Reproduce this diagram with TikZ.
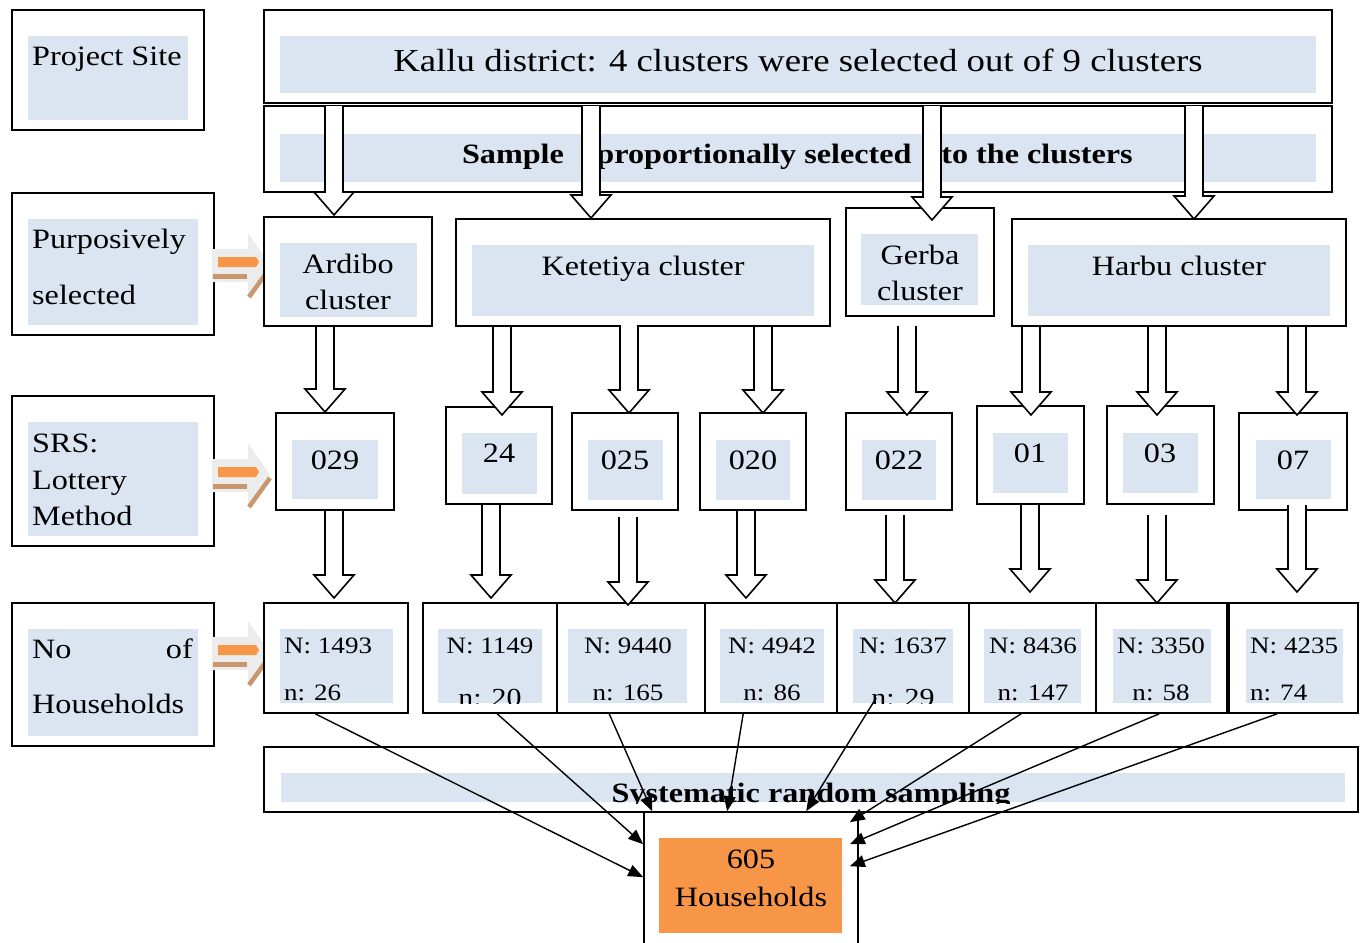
\documentclass[tikz,border=0pt]{standalone}
\usepackage{fontspec}
\setmainfont{Liberation Serif}[FakeStretch=1.15]
\usetikzlibrary{arrows.meta,calc}
\definecolor{lb}{HTML}{DBE5F1}
\definecolor{org}{HTML}{F79646}
\definecolor{brn}{HTML}{C9976E}
\definecolor{gry}{HTML}{ECECEC}
\tikzset{
 box/.style={draw=black, line width=1.6pt, inner sep=0pt, fill=white},
 txt/.style={inner sep=0pt, anchor=base, font=\fontsize{28}{30}\selectfont},
 txtl/.style={txt, anchor=base west},
 txtr/.style={txt, anchor=base east},
 big/.style={txt, font=\fontsize{32}{34}\selectfont},
 bld/.style={txt, font=\fontsize{28}{30}\selectfont\bfseries},
 sm/.style={txt, font=\fontsize{23.5}{26}\selectfont},
 sml/.style={sm, anchor=base west},
 smb/.style={sm, font=\fontsize{26}{28}\selectfont},
 blk/.style={draw=black, fill=white, line width=1.6pt, line join=miter},
 conn/.style={line width=1.4pt, -{Triangle[length=15pt,width=12pt]}},
}
\newcommand{\barrow}[3]{\filldraw[blk] (#1-9,#2) -- (#1-9,#3-23) -- (#1-20,#3-23) -- (#1,#3) -- (#1+20,#3-23) -- (#1+9,#3-23) -- (#1+9,#2);}
\newcommand{\oarrow}[1]{%
 \fill[gry] (212,#1-16) -- (248,#1-16) -- (248,#1-32) -- (270,#1) -- (248,#1+33) -- (248,#1+17) -- (212,#1+17) -- cycle;
 \fill[brn] (213,#1+9) rectangle (247,#1+14);
 \draw[brn, line width=4.5pt] (249,#1+32) -- (270,#1+3);
 \fill[org] (218,#1-8) -- (256,#1-8) -- (259,#1-3) -- (256,#1+2) -- (218,#1+2) -- cycle;
}
\begin{document}
\begin{tikzpicture}[x=1pt,y=-1pt]
\useasboundingbox (0,0) rectangle (1364,942);
\clip (0,0) rectangle (1364,942);

% ---- left column ----
\node[box, minimum width=192pt, minimum height=120pt] (ps) at (108,70) {};
\fill[lb] (28,36) rectangle (188,120);
\node[txtl] (pst) at (32,65) {Project Site};

\node[box, minimum width=202pt, minimum height=142pt] (pu) at (113,264) {};
\fill[lb] (28,219) rectangle (198,325);
\node[txtl] (pu1) at (32,248) {Purposively};
\node[txtl] (pu2) at (32,304) {selected};

\node[box, minimum width=202pt, minimum height=150pt] (srs) at (113,471) {};
\fill[lb] (28,422) rectangle (198,536);
\node[txtl] (srs1) at (32,452) {SRS:};
\node[txtl] (srs2) at (32,489) {Lottery};
\node[txtl] (srs3) at (32,525) {Method};

\node[box, minimum width=202pt, minimum height=143pt] (noh) at (113,674.5) {};
\fill[lb] (28,629) rectangle (198,736);
\node[txtl] (noh1) at (32,658) {No};
\node[txtr] (noh2) at (193,658) {of};
\node[txtl] (noh3) at (32,713) {Households};

\oarrow{265}
\oarrow{475}
\oarrow{653}

% ---- top boxes ----
\node[box, minimum width=1068pt, minimum height=93pt] (kal) at (798,56.5) {};
\fill[lb] (280,36) rectangle (1316,93);
\node[big] (kalt) at (798,71) {Kallu district: 4 clusters were selected out of 9 clusters};

\node[box, minimum width=1068pt, minimum height=86pt] (sam) at (798,149) {};
\fill[lb] (280,134) rectangle (1316,182);
\node[bld] (sam1) at (513,163) {Sample};
\node[bld] (sam2) at (754,163) {proportionally selected};
\node[bld] (sam3) at (1037,163) {to the clusters};

% ---- clusters ----
\node[box, minimum width=168pt, minimum height=109pt] (ard) at (348,271.5) {};
\fill[lb] (280,243) rectangle (417,317);
\node[txt] (ard1) at (348,273) {Ardibo};
\node[txt] (ard2) at (348,309) {cluster};

\node[box, minimum width=374pt, minimum height=107pt] (ket) at (643,272.5) {};
\fill[lb] (472,245) rectangle (814,316);
\node[txt] (ket1) at (643,275) {Ketetiya cluster};

\node[box, minimum width=148pt, minimum height=108pt] (ger) at (920,262) {};
\fill[lb] (861,234) rectangle (978,305);
\node[txt] (ger1) at (920,264) {Gerba};
\node[txt] (ger2) at (920,300) {cluster};

\node[box, minimum width=334pt, minimum height=107pt] (har) at (1179,272.5) {};
\fill[lb] (1028,245) rectangle (1330,316);
\node[txt] (har1) at (1179,275) {Harbu cluster};

% ---- kebeles ----
\node[box, minimum width=118pt, minimum height=97pt] (k1) at (335,461.5) {};
\fill[lb] (292,440) rectangle (378,499);
\node[txt] (k1t) at (335,469) {029};
\node[box, minimum width=106pt, minimum height=97pt] (k2) at (499,455.5) {};
\fill[lb] (462,433) rectangle (537,494);
\node[txt] (k2t) at (499,462) {24};
\node[box, minimum width=106pt, minimum height=97pt] (k3) at (625,461.5) {};
\fill[lb] (588,440) rectangle (663,500);
\node[txt] (k3t) at (625,469) {025};
\node[box, minimum width=106pt, minimum height=97pt] (k4) at (753,461.5) {};
\fill[lb] (716,440) rectangle (790,500);
\node[txt] (k4t) at (753,469) {020};
\node[box, minimum width=106pt, minimum height=97pt] (k5) at (899,461.5) {};
\fill[lb] (862,440) rectangle (936,500);
\node[txt] (k5t) at (899,469) {022};
\node[box, minimum width=107pt, minimum height=98pt] (k6) at (1030.5,455) {};
\fill[lb] (993,433) rectangle (1068,493);
\node[txt] (k6t) at (1030,462) {01};
\node[box, minimum width=107pt, minimum height=98pt] (k7) at (1160.5,455) {};
\fill[lb] (1123,433) rectangle (1198,493);
\node[txt] (k7t) at (1160,462) {03};
\node[box, minimum width=108pt, minimum height=97pt] (k8) at (1293,461.5) {};
\fill[lb] (1256,440) rectangle (1331,499);
\node[txt] (k8t) at (1293,469) {07};

% ---- household counts ----
\node[box, minimum width=144pt, minimum height=110pt] (n1) at (336,658) {};
\fill[lb] (280,629) rectangle (393,703);
\node[sml] (n1a) at (284,653) {N: 1493};
\node[sml] (n1b) at (284,700) {n: 26};

\node[box, minimum width=134pt, minimum height=110pt] (n2) at (490,658) {};
\fill[lb] (438,629) rectangle (542,703);
\node[sm] (n2a) at (490,653) {N: 1149};
\begin{scope}
\clip (438,629) rectangle (542,703);
\node[smb] (n2b) at (490,706) {n: 20};
\end{scope}

\node[box, minimum width=148pt, minimum height=110pt] (n3) at (631,658) {};
\fill[lb] (568,629) rectangle (687,703);
\node[sm] (n3a) at (628,653) {N: 9440};
\node[sm] (n3b) at (628,700) {n: 165};

\node[box, minimum width=132pt, minimum height=110pt] (n4) at (771,658) {};
\fill[lb] (720,629) rectangle (824,703);
\node[sm] (n4a) at (772,653) {N: 4942};
\node[sm] (n4b) at (772,700) {n: 86};

\node[box, minimum width=132pt, minimum height=110pt] (n5) at (903,658) {};
\fill[lb] (853,629) rectangle (953,703);
\node[sm] (n5a) at (903,653) {N: 1637};
\begin{scope}
\clip (853,629) rectangle (953,703);
\node[smb] (n5b) at (903,706) {n: 29};
\end{scope}

\node[box, minimum width=127pt, minimum height=110pt] (n6) at (1032.5,658) {};
\fill[lb] (984,629) rectangle (1081,703);
\node[sm] (n6a) at (1033,653) {N: 8436};
\node[sm] (n6b) at (1033,700) {n: 147};

\node[box, minimum width=131pt, minimum height=110pt] (n7) at (1161.5,658) {};
\fill[lb] (1113,629) rectangle (1211,703);
\node[sm] (n7a) at (1161,653) {N: 3350};
\node[sm] (n7b) at (1161,700) {n: 58};

\node[box, minimum width=129pt, minimum height=110pt] (n8) at (1293.5,658) {};
\fill[lb] (1246,629) rectangle (1343,703);
\node[sml] (n8a) at (1250,653) {N: 4235};
\node[sml] (n8b) at (1250,700) {n: 74};

% ---- systematic sampling ----
\node[box, minimum width=1094pt, minimum height=65pt] (sys) at (811,779.5) {};
\fill[lb] (281,773) rectangle (1345,802);
\begin{scope}
\clip (264,747) rectangle (1358,803);
\node[bld] (syst) at (811,802) {Systematic random sampling};
\end{scope}

% ---- final households ----
\node[box, minimum width=214pt, minimum height=140pt] (hh) at (751,882) {};
\fill[org] (659,838) rectangle (842,933);
\node[txt] (hh1) at (751,868) {605};
\node[txt] (hh2) at (751,906) {Households};

% ---- block arrows ----
\barrow{334}{106}{215}
\barrow{591}{106}{218}
\barrow{932}{106}{220}
\barrow{1194}{106}{219}

\barrow{325}{327}{412}
\barrow{502}{327}{415}
\barrow{629}{325}{413}
\barrow{763}{327}{413}
\barrow{907}{326}{415}
\barrow{1031}{327}{415}
\barrow{1157}{327}{415}
\barrow{1297}{327}{415}

\barrow{334}{511}{598}
\barrow{491}{505}{598}
\barrow{628}{517}{605}
\barrow{746}{511}{598}
\barrow{895}{515}{603}
\barrow{1030}{505}{592}
\barrow{1157}{515}{603}
\barrow{1297}{505}{592}

% ---- connectors ----
\draw[conn] ([xshift=52pt]n1.south west) -- ([yshift=-66pt]hh.north west);
\draw[conn] ([xshift=75pt]n2.south west) -- ([yshift=-33pt]hh.north west);
\draw[conn] ([xshift=53pt]n3.south west) -- ([xshift=9pt]hh.north west);
\draw[conn] ([xshift=39pt]n4.south west) -- ([xshift=84pt]hh.north west);
\draw[conn] ([xshift=40pt,yshift=16pt]n5.south west) -- ([xshift=163pt]hh.north west);
\draw[conn] ([xshift=53pt]n6.south west) -- ([xshift=-9pt,yshift=-11pt]hh.north east);
\draw[conn] ([xshift=64pt]n7.south west) -- ([xshift=-9pt,yshift=-33pt]hh.north east);
\draw[conn] ([xshift=49pt]n8.south west) -- ([xshift=-9pt,yshift=-55pt]hh.north east);
\end{tikzpicture}
\end{document}
